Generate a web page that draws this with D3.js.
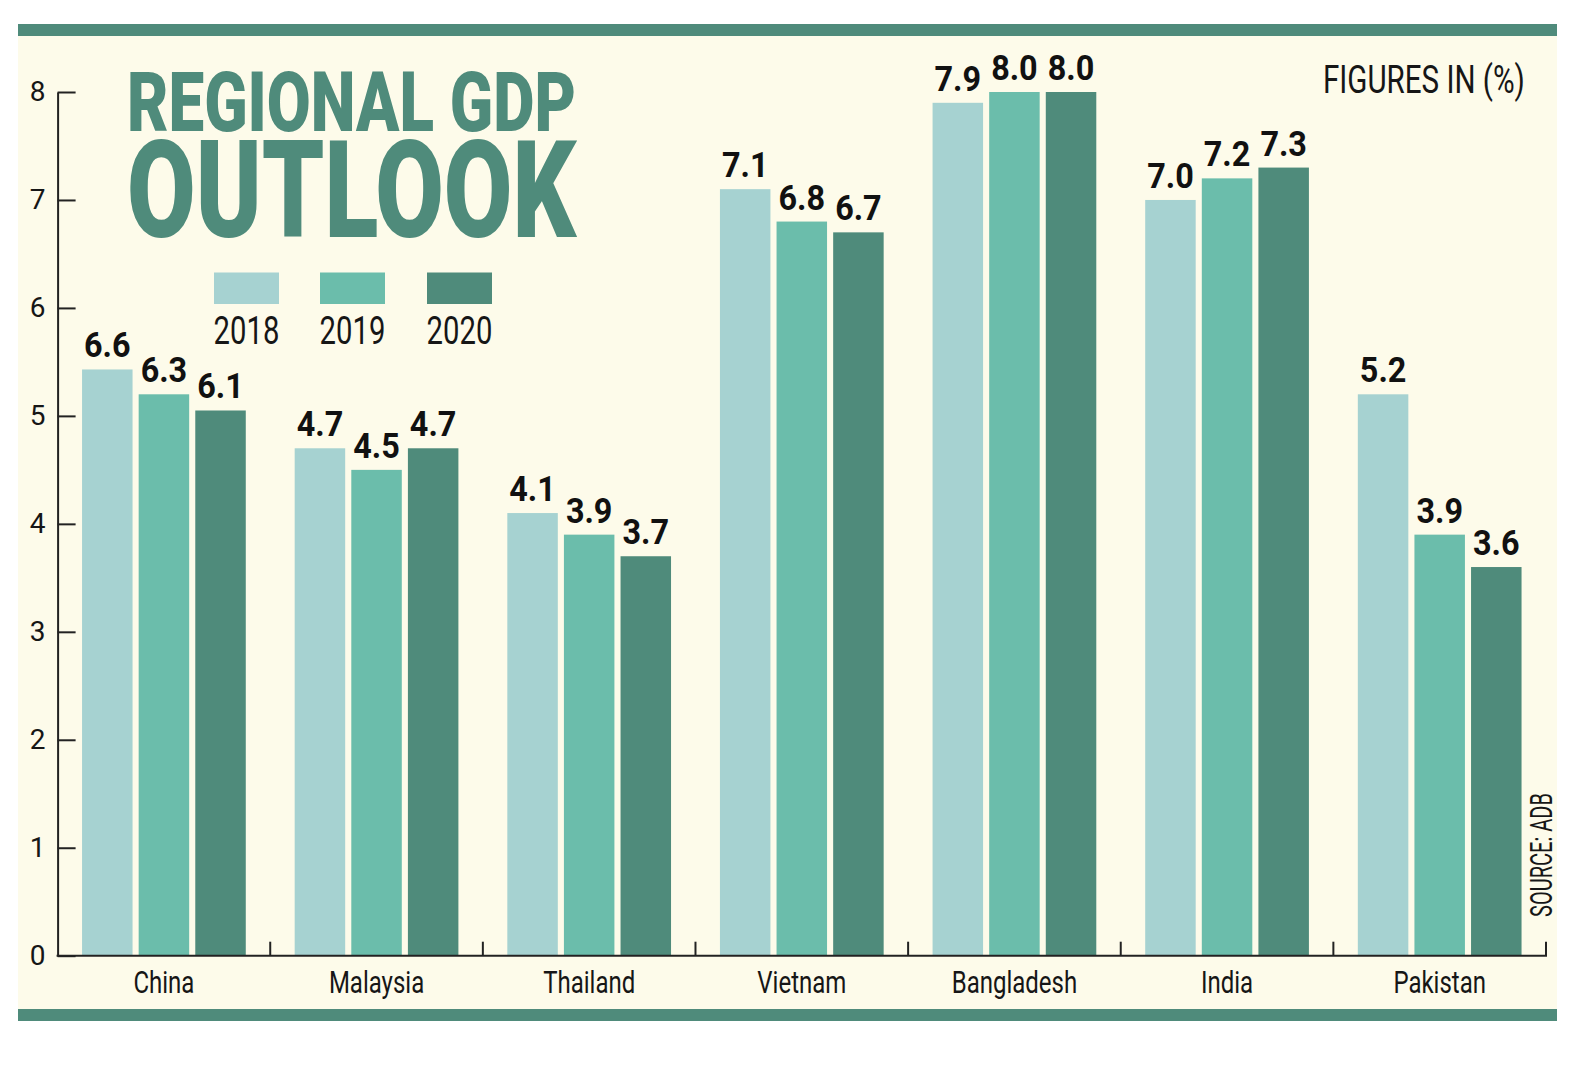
<!DOCTYPE html>
<html><head><meta charset="utf-8">
<script src="https://cdn.jsdelivr.net/npm/d3@7"></script>
<style>html,body{margin:0;padding:0;background:#fff;} svg{display:block}</style>
</head><body><svg id="c" width="1584" height="1066"></svg>
<script>
const categories = ["China","Malaysia","Thailand","Vietnam","Bangladesh","India","Pakistan"];
const years = ["2018","2019","2020"];
// bar heights as drawn in the picture
const values2018 = [5.43,4.7,4.1,7.1,7.9,7.0,5.2];
const values2019 = [5.2,4.5,3.9,6.8,8.0,7.2,3.9];
const values2020 = [5.05,4.7,3.7,6.7,8.0,7.3,3.6];
// printed value labels
const labels2018 = ["6.6","4.7","4.1","7.1","7.9","7.0","5.2"];
const labels2019 = ["6.3","4.5","3.9","6.8","8.0","7.2","3.9"];
const labels2020 = ["6.1","4.7","3.7","6.7","8.0","7.3","3.6"];
const yTicks = [0,1,2,3,4,5,6,7,8];
const titleLine1 = "REGIONAL GDP";
const titleLine2 = "OUTLOOK";
const unitNote = "FIGURES IN (%)";
const sourceNote = "SOURCE: ADB";

const colors = ["#a6d2d1","#6bbdab","#4f8b7b"];
const valuesBy = [values2018, values2019, values2020];
const labelsBy = [labels2018, labels2019, labels2020];

const svg = d3.select("#c");
const FONT = "Roboto, 'Open Sans', sans-serif";
const INK = "#161616";

// background panel and bands
svg.append("rect").attr("x",18).attr("y",24).attr("width",1539).attr("height",997).attr("fill","#fdfbea");
svg.append("rect").attr("x",18).attr("y",24).attr("width",1539).attr("height",12).attr("fill","#4f8b7b");
svg.append("rect").attr("x",18).attr("y",1009).attr("width",1539).attr("height",12).attr("fill","#4f8b7b");

const x0 = d3.scaleBand().domain(categories).range([57.6, 1546]).padding(0);
const x1 = d3.scaleBand().domain(years).range([0, x0.bandwidth()]).paddingInner(0.108).paddingOuter(0.432);
const y = d3.scaleLinear().domain([0,8]).range([955.7, 92]);

function txt(sel, o) {
  const t = sel.append("text")
    .attr("text-anchor", o.anchor || "middle")
    .attr("font-family", o.family || FONT)
    .attr("font-size", o.size)
    .attr("font-weight", o.weight || 400)
    .attr("fill", o.fill || INK)
    .text(o.text);
  let sx = o.sx || 1;
  if (o.fit) {
    const w = t.node().getComputedTextLength();
    if (w > 0) sx = o.fit / w;
  }
  t.attr("transform", `translate(${o.x},${o.y})${o.rot?` rotate(${o.rot})`:""} scale(${sx},1)`);
  return t;
}

// bars
const groups = svg.append("g").selectAll("g").data(categories).join("g")
  .attr("transform", d => `translate(${x0(d)},0)`);
years.forEach((yr, k) => {
  groups.append("rect")
    .attr("x", x1(yr))
    .attr("width", x1.bandwidth())
    .attr("y", (d,i) => y(valuesBy[k][i]))
    .attr("height", (d,i) => y(0) - y(valuesBy[k][i]))
    .attr("fill", colors[k]);
});
// value labels
categories.forEach((c, i) => {
  years.forEach((yr, k) => {
    txt(svg, {x: x0(c) + x1(yr) + x1.bandwidth()/2, y: y(valuesBy[k][i]) - 12,
      text: labelsBy[k][i], size: 36, weight: 700, sx: 0.9, fill: "#111"});
  });
});

// y axis
const yAxis = d3.axisLeft(y).tickValues(yTicks).tickFormat(d3.format("d"))
  .tickSize(-18).tickSizeOuter(0).tickPadding(12);
const ga = svg.append("g").attr("transform","translate(57.6,0)").call(yAxis);
ga.select(".domain").attr("stroke", "#222").attr("stroke-width", 2);
ga.selectAll(".tick line").attr("stroke", "#222").attr("stroke-width", 2);
ga.selectAll(".tick text").attr("font-family", FONT).attr("font-size", 28).attr("fill", INK);

// x axis
svg.append("line").attr("x1", 56.6).attr("x2", 1547).attr("y1", y(0)).attr("y2", y(0))
  .attr("stroke","#222").attr("stroke-width",2);
svg.append("g").selectAll("line").data(categories).join("line")
  .attr("x1", d => x0(d) + x0.bandwidth()).attr("x2", d => x0(d) + x0.bandwidth())
  .attr("y1", y(0)).attr("y2", y(0) - 14)
  .attr("stroke","#222").attr("stroke-width",2);
categories.forEach(c => {
  txt(svg, {x: x0(c) + x0.bandwidth()/2, y: 993, text: c, size: 32, sx: 0.75});
});

// title
txt(svg, {x: 127, y: 131, text: titleLine1, size: 84, weight: 900, fill: "#4f8b7b", anchor: "start", fit: 449});
txt(svg, {x: 127, y: 237, text: titleLine2, size: 136, weight: 900, fill: "#4f8b7b", anchor: "start", fit: 449});

// legend
const legX = [246.5, 352.5, 459.5];
years.forEach((yr, k) => {
  svg.append("rect").attr("x", legX[k] - 32.5).attr("y", 272.5).attr("width", 65).attr("height", 31.5).attr("fill", colors[k]);
  txt(svg, {x: legX[k], y: 344, text: yr, size: 39, sx: 0.75});
});

// notes
txt(svg, {x: 1323, y: 93, text: unitNote, size: 38, anchor: "start", fit: 202});
txt(svg, {x: 1552, y: 917, rot: -90, text: sourceNote, size: 31, anchor: "start", fit: 124});
</script></body></html>
